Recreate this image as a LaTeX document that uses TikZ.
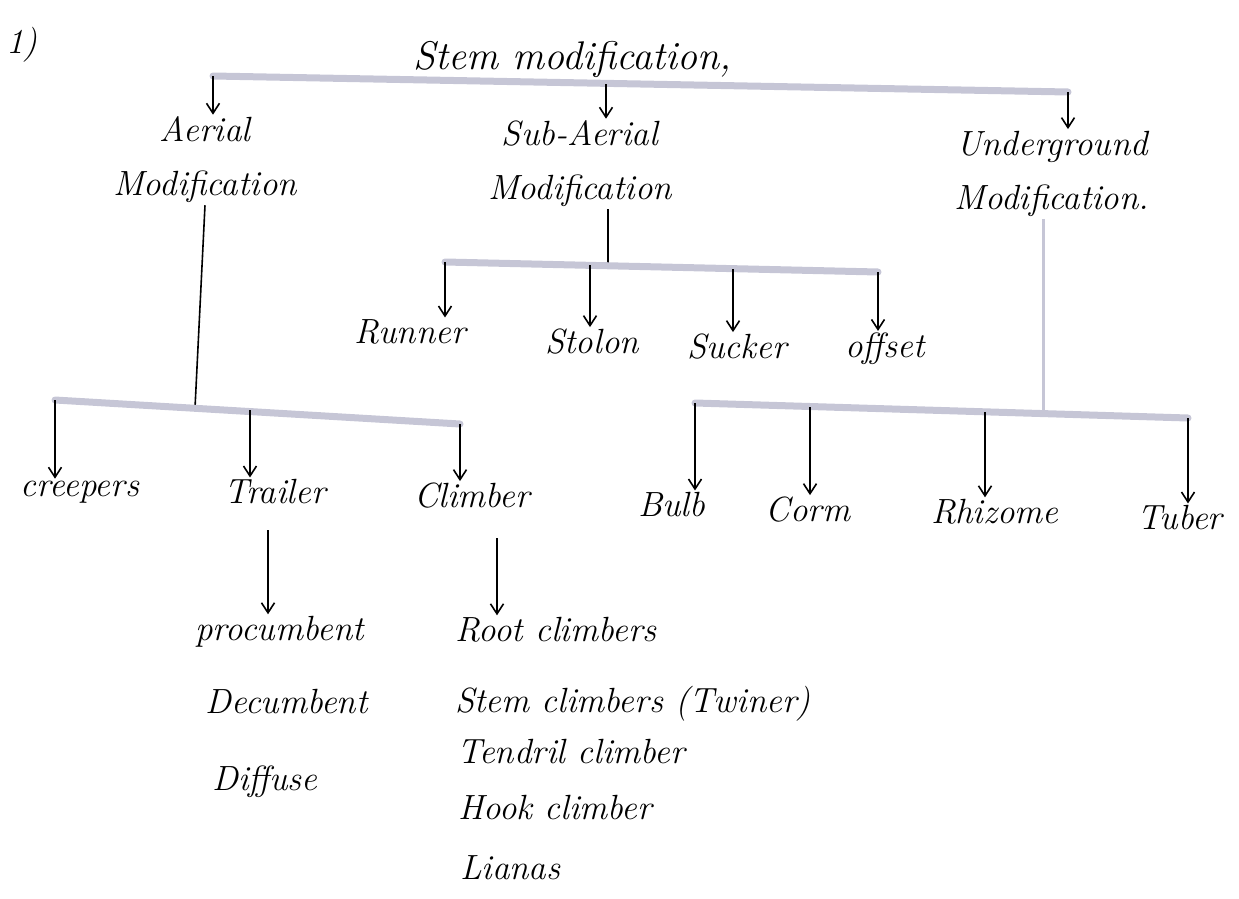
\documentclass[tikz,border=0pt]{standalone}
\usepackage{fontspec}
\usetikzlibrary{arrows.meta}
\definecolor{barcol}{RGB}{198,198,214}
\begin{document}
\begin{tikzpicture}[x=1pt,y=-1pt,
  lbl/.style={font=\fontsize{35}{54}\selectfont\itshape, inner sep=2pt, align=center},
  lft/.style={lbl, anchor=west, align=left},
  bar/.style={line width=7pt, draw=barcol, line cap=round},
  arr/.style={-{Straight Barb[length=10pt,width=13pt]}, line width=1.6pt, draw=black},
  stemline/.style={line width=1.6pt, draw=black},
  greyline/.style={line width=3pt, draw=barcol}]
\useasboundingbox (0,0) rectangle (1239,899);
% level 0 and 1
\node[lbl] (num) at (22,45) {1)};
\node[lbl, font=\fontsize{40}{54}\selectfont\itshape] (root) at (572,60) {Stem modification,};
\node[lbl] (aer) at (205,160) {Aerial\\Modification};
\node[lbl] (sub) at (580,164) {Sub-Aerial\\Modification};
\node[lbl] (und) at (1052,174) {Underground\\Modification.};
% top bar
\coordinate (t1) at (213,76);
\coordinate (tm) at (606,84);
\coordinate (t3) at (1068,92);
\draw[bar] (t1) -- (t3);
\draw[arr] (t1) -- (t1 |- aer.north);
\draw[arr] (tm) -- (tm |- sub.north);
\draw[arr] (t3) -- (t3 |- und.north);
% sub-aerial
\node[lbl] (runner) at (410,332) {Runner};
\node[lbl] (stolon) at (592,342) {Stolon};
\node[lbl] (sucker) at (737,347) {Sucker};
\node[lbl] (offset) at (885,349) {offset};
\coordinate (s1) at (445,262);
\coordinate (s2) at (590,265);
\coordinate (sm) at (608,266);
\coordinate (s3) at (733,269);
\coordinate (s4) at (878,272);
\draw[stemline] (sub.south -| sm) -- (sm);
\draw[bar] (s1) -- (s4);
\draw[arr] (s1) -- (s1 |- runner.north);
\draw[arr] (s2) -- (s2 |- stolon.north);
\draw[arr] (s3) -- (s3 |- sucker.north);
\draw[arr] (s4) -- (s4 |- offset.north);
% aerial
\node[lbl] (creep) at (80,492) {creepers};
\node[lbl] (trail) at (275,492) {Trailer};
\node[lbl] (climb) at (472,496) {Climber};
\coordinate (a1) at (55,400);
\coordinate (a2) at (250,410);
\coordinate (am) at (195,408);
\coordinate (a3) at (460,424);
\draw[stemline] (aer.south) -- (am);
\draw[bar] (a1) -- (a3);
\draw[arr] (a1) -- (a1 |- creep.north);
\draw[arr] (a2) -- (a2 |- trail.north);
\draw[arr] (a3) -- (a3 |- climb.north);
% trailer list
\node[lft] (proc) at (193,632) {procumbent};
\node[lft] (decu) at (203,702) {Decumbent};
\node[lft] (diff) at (210,782) {Diffuse};
\coordinate (tr) at (268,530);
\draw[arr] (tr) -- (tr |- proc.north);
% climber list
\node[lft] (rootc) at (453,630) {Root climbers};
\node[lft] (stemc) at (453,704) {Stem climbers (Twiner)};
\node[lft] (tend) at (455,752) {Tendril climber};
\node[lft] (hook) at (456,808) {Hook climber};
\node[lft] (lian) at (458,868) {Lianas};
\coordinate (cl) at (497,538);
\draw[arr] (cl) -- (cl |- rootc.north);
% underground
\node[lbl] (bulb) at (672,505) {Bulb};
\node[lbl] (corm) at (808,510) {Corm};
\node[lbl] (rhiz) at (995,512) {Rhizome};
\node[lbl] (tuber) at (1180,518) {Tuber};
\coordinate (u1) at (695,403);
\coordinate (u2) at (810,407);
\coordinate (um) at (1043,413);
\coordinate (u3) at (985,412);
\coordinate (u4) at (1188,418);
\draw[greyline] (und.south -| um) -- (um);
\draw[bar] (u1) -- (u4);
\draw[arr] (u1) -- (u1 |- bulb.north);
\draw[arr] (u2) -- (u2 |- corm.north);
\draw[arr] (u3) -- (u3 |- rhiz.north);
\draw[arr] (u4) -- (u4 |- tuber.north);
\end{tikzpicture}
\end{document}
